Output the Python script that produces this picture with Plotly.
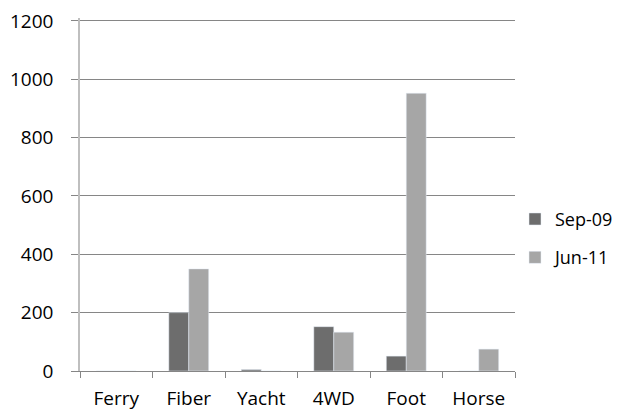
import plotly.graph_objects as go

categories = ["Ferry", "Fiber", "Yacht", "4WD", "Foot", "Horse"]
sep09 = [0, 200, 5, 152, 51, 0]
jun11 = [0, 350, 0, 133, 952, 75]
series_names = ["Sep-09", "Jun-11"]

fig = go.Figure()
fig.add_trace(go.Bar(x=categories, y=sep09, name=series_names[0], marker_color="#6d6d6d",
                     legendgroup="a"))
fig.add_trace(go.Bar(x=categories, y=jun11, name=series_names[1], marker_color="#a6a6a6",
                     legendgroup="b"))

fig.update_layout(
    width=619, height=405,
    margin=dict(l=72, r=112, t=10, b=42, autoexpand=False),
    paper_bgcolor="white", plot_bgcolor="white",
    barmode="group", bargap=0.45, bargroupgap=0,
    font=dict(family="Open Sans, Liberation Sans, sans-serif", size=19, color="#000000"),
    legend=dict(x=1.0, y=0.376, yanchor="middle", xanchor="left",
                font=dict(size=18), itemwidth=30, tracegroupgap=12),
    showlegend=True,
)
fig.update_xaxes(showline=True, linecolor="#868686", linewidth=1,
                 ticks="outside", tickson="boundaries", ticklen=6, tickcolor="#868686",
                 ticklabelstandoff=10, showgrid=False, fixedrange=True,
                 ticklabeloverflow="allow")
fig.update_yaxes(range=[0, 1210], tick0=0, dtick=200, showgrid=True, gridcolor="#868686",
                 gridwidth=1, showline=True, linecolor="#bfbfbf", linewidth=1.5,
                 ticks="outside", ticklen=7, tickcolor="#868686", ticklabelstandoff=14,
                 ticklabeloverflow="allow", zeroline=False)
fig.write_html("out.html")
